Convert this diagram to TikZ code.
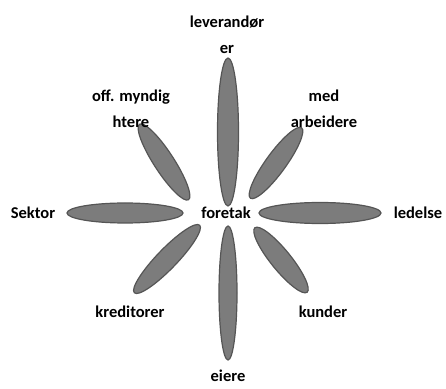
\documentclass[tikz,border=0pt]{standalone}
\usepackage{fontspec}
\setmainfont{Carlito}
\usepackage{tikz}
\usetikzlibrary{shapes.geometric}
\definecolor{petalfill}{HTML}{7C7C7C}
\definecolor{petaledge}{HTML}{555555}

\tikzset{
  petal/.style={ellipse,fill=petalfill,draw=petaledge,line width=1.2pt,inner sep=0pt},
  lbl/.style={font=\fontsize{16.5}{26}\selectfont\bfseries,align=center,inner sep=0pt}
}

\begin{document}
\begin{tikzpicture}[x=1pt,y=1pt]
\useasboundingbox (0,0) rectangle (446,388);
% petals round the centre
\node[petal,minimum width=148,minimum height=21,rotate=90] (pN) at (228,256) {};
\node[petal,minimum width=134,minimum height=18,rotate=90] (pS) at (228,95) {};
\node[petal,minimum width=116,minimum height=20] (pW) at (125,175) {};
\node[petal,minimum width=122,minimum height=21] (pE) at (320,175) {};
\node[petal,minimum width=90,minimum height=20,rotate=-57] (pNW) at (164,226) {};
\node[petal,minimum width=87,minimum height=20,rotate=54] (pNE) at (276,225) {};
\node[petal,minimum width=94,minimum height=20,rotate=46] (pSW) at (167,129) {};
\node[petal,minimum width=83,minimum height=20,rotate=-51] (pSE) at (281,128) {};
% labels
\node[lbl] (foretak) at (226,175) {foretak};
\node[lbl] (lev) at (227,353) {leverandør\\er};
\node[lbl] (off) at (131,279) {off. myndig\\htere};
\node[lbl] (med) at (324,279) {med\\arbeidere};
\node[lbl] (sektor) at (33,175) {Sektor};
\node[lbl] (ledelse) at (418,175) {ledelse};
\node[lbl] (kred) at (130,76) {kreditorer};
\node[lbl] (kunder) at (323,76) {kunder};
\node[lbl] (eiere) at (228,12) {eiere};
\end{tikzpicture}
\end{document}
